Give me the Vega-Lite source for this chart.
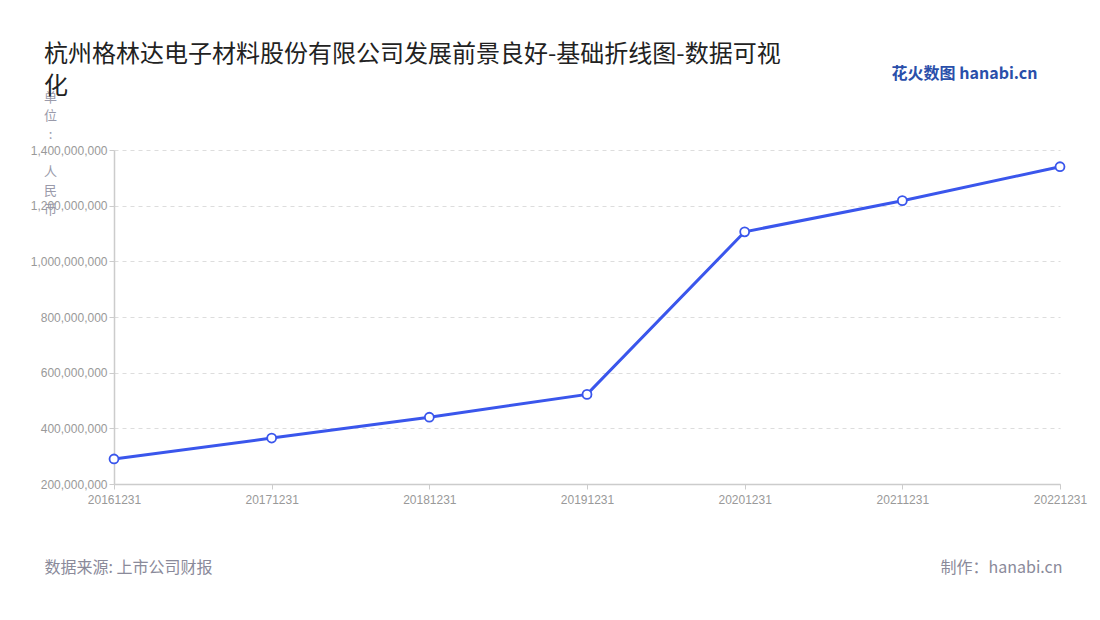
{
  "$schema": "https://vega.github.io/schema/vega-lite/v6.json",
  "autosize": {"type": "none"},
  "width": 946,
  "height": 334,
  "padding": {"left": 114, "top": 150, "right": 40, "bottom": 136},
  "background": "#ffffff",
  "config": {
    "font": "Noto Sans CJK SC",
    "view": {"stroke": null}
  },
  "title": {
    "text": ["杭州格林达电子材料股份有限公司发展前景良好-基础折线图-数据可视", "化"],
    "anchor": "start",
    "frame": "group",
    "font": "Noto Sans CJK SC",
    "fontSize": 24,
    "fontWeight": "normal",
    "color": "#222222",
    "lineHeight": 32,
    "dx": -70,
    "dy": 34,
    "offset": 0
  },
  "data": {
    "values": [
      {"date": "20161231", "value": 290000000},
      {"date": "20171231", "value": 365000000},
      {"date": "20181231", "value": 440000000},
      {"date": "20191231", "value": 522000000},
      {"date": "20201231", "value": 1106000000},
      {"date": "20211231", "value": 1218000000},
      {"date": "20221231", "value": 1340000000}
    ]
  },
  "layer": [
    {
      "mark": {"type": "line", "color": "#3a56ec", "strokeWidth": 3},
      "encoding": {
        "x": {
          "field": "date", "type": "ordinal",
          "scale": {"type": "point", "padding": 0},
          "axis": {
            "title": "数据来源: 上市公司财报",
            "titleFont": "Noto Sans CJK SC",
            "titleFontSize": 16,
            "titleFontWeight": "normal",
            "titleColor": "#8a8a9a",
            "titleAnchor": null,
            "titleAlign": "left",
            "titleBaseline": "middle",
            "titleX": -70,
            "titleY": 83,
            "labelAngle": 0,
            "labelFont": "Liberation Sans",
            "labelFontSize": 12,
            "labelColor": "#999999",
            "labelPadding": 5,
            "tickColor": "#cccccc",
            "tickSize": 5,
            "domainColor": "#cccccc",
            "domainWidth": 1.5,
            "grid": false
          }
        },
        "y": {
          "field": "value", "type": "quantitative",
          "scale": {"domain": [200000000, 1400000000], "nice": false, "zero": false},
          "axis": {
            "values": [200000000, 400000000, 600000000, 800000000, 1000000000, 1200000000, 1400000000],
            "format": ",d",
            "title": ["单", "位", ":", "\u2800", "人", "民", "币"],
            "titleFont": "Noto Sans CJK SC",
            "titleFontSize": 13,
            "titleFontWeight": "normal",
            "titleColor": "#9a9aaa",
            "titleAngle": 0,
            "titleAnchor": null,
            "titleAlign": "center",
            "titleBaseline": "top",
            "titleLineHeight": 18.7,
            "titleX": -64,
            "titleY": -59,
            "labelFont": "Liberation Sans",
            "labelFontSize": 12,
            "labelColor": "#999999",
            "labelPadding": 2,
            "tickColor": "#cccccc",
            "tickSize": 5,
            "domainColor": "#cccccc",
            "domainWidth": 1.5,
            "grid": true,
            "gridColor": "#dddddd",
            "gridDash": [4, 4],
            "gridWidth": 1
          }
        }
      }
    },
    {
      "mark": {"type": "point", "filled": true, "fill": "#ffffff", "stroke": "#3a56ec", "strokeWidth": 1.8, "size": 80, "opacity": 1},
      "encoding": {
        "x": {
          "field": "date", "type": "ordinal",
          "scale": {"type": "point", "padding": 0},
          "axis": {
            "orient": "top",
            "labels": false, "ticks": false, "domain": false, "grid": false,
            "title": "花火数图 hanabi.cn",
            "titleFont": "Noto Sans CJK SC",
            "titleFontSize": 16,
            "titleFontWeight": "bold",
            "titleColor": "#2a4faa",
            "titleAnchor": null,
            "titleAlign": "right",
            "titleBaseline": "middle",
            "titleX": 923,
            "titleY": -77
          }
        },
        "y": {
          "field": "value", "type": "quantitative",
          "axis": {
            "orient": "right",
            "labels": false, "ticks": false, "domain": false, "grid": false,
            "title": "制作：hanabi.cn",
            "titleFont": "Noto Sans CJK SC",
            "titleFontSize": 16,
            "titleFontWeight": "normal",
            "titleColor": "#8a8a9a",
            "titleAngle": 0,
            "titleAnchor": null,
            "titleAlign": "right",
            "titleBaseline": "middle",
            "titleX": 2,
            "titleY": 417
          }
        }
      }
    }
  ],
  "resolve": {"axis": {"x": "independent", "y": "independent"}}
}
